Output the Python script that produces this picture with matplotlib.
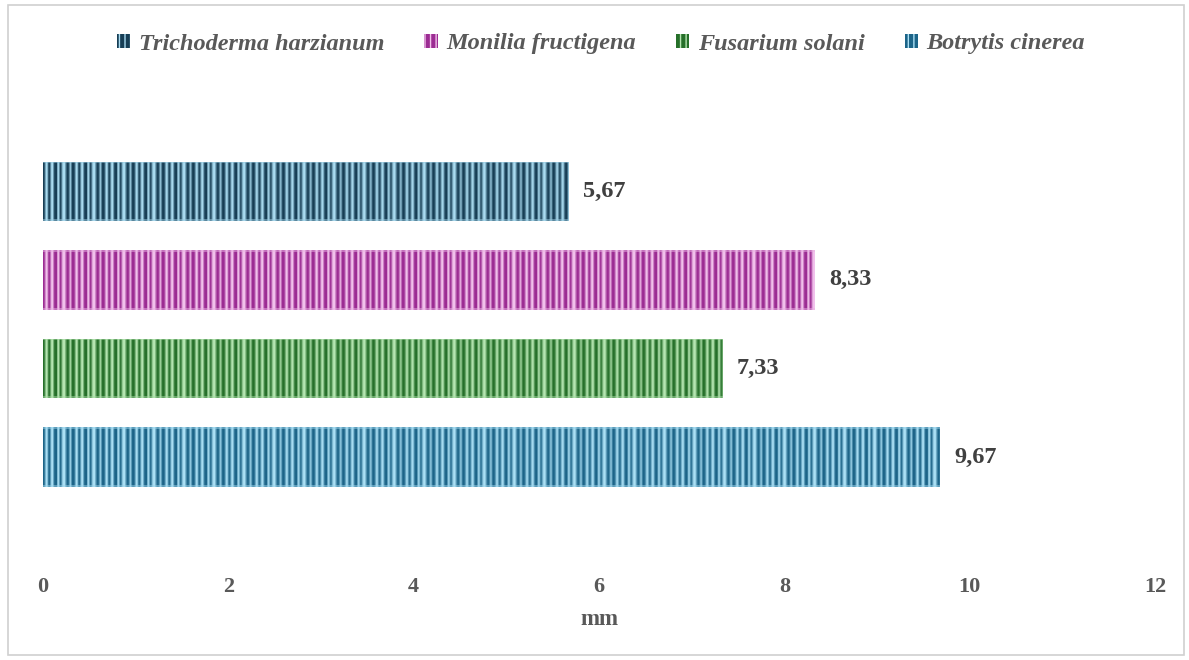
import numpy as np
import matplotlib
matplotlib.use("Agg")
import matplotlib.pyplot as plt
from matplotlib.patches import Rectangle, Patch
from matplotlib.colors import LinearSegmentedColormap

# Inhibition zone (mm) per fungus
species = ["Trichoderma harzianum", "Monilia fructigena", "Fusarium solani", "Botrytis cinerea"]
values = [5.67, 8.33, 7.33, 9.67]
labels = ["5,67", "8,33", "7,33", "9,67"]
xticks = [0, 2, 4, 6, 8, 10, 12]

# dark / light tones of the striped fill for each series
dark_cols = ["#173e55", "#9c2c93", "#26702a", "#1c6488"]
light_cols = ["#aadcf1", "#f2c2ec", "#b6e6b2", "#abe0f5"]

plt.rcParams["font.family"] = ["Liberation Serif", "DejaVu Serif"]
plt.rcParams["hatch.color"] = "#ffffff"
txt = "#595959"

fig = plt.figure(figsize=(11.89, 6.60), dpi=100)
W, H = 1189, 660
ax = fig.add_axes([43 / W, (H - 560) / H, (1155 - 43) / W, (560 - 100) / H])

# outer frame of the chart
fig.patches.append(Rectangle((8 / W, 5 / H), (1184 - 8) / W, (655 - 5) / H,
                             transform=fig.transFigure, fill=False,
                             edgecolor="#d0d0d0", linewidth=1.2))

ypos = np.arange(len(species))[::-1].astype(float)
bar_h = 0.67

# fine vertical stripe profile used as the bar texture (one entry per column)
stripe = np.array([0.0, 0.2, 0.65, 1.0, 0.75, 0.2, 0.05, 0.45, 0.9, 1.0,
                   0.55, 0.1, 0.0, 0.0, 0.7, 0.95, 0.5, 0.05, 0.35, 0.8, 1.0, 1.0,
                   0.6, 0.25, 0.0, 0.1, 0.5, 0.85, 0.4, 0.0])
col_w = 12 / 1112  # data width of one texture column

bars = ax.barh(ypos, values, height=bar_h, color="none", edgecolor="none")
for bar, dc, lc in zip(bars, dark_cols, light_cols):
    x0, y0 = bar.get_x(), bar.get_y()
    w, h = bar.get_width(), bar.get_height()
    n = int(np.ceil(w / col_w)) + 1
    row = np.resize(stripe, n)
    vert = np.ones(60)
    vert[:2] = 0.5
    vert[-2:] = 0.5
    img = np.clip(row[None, :] * vert[:, None] + (1 - vert[:, None]) * 0.9, 0, 1)
    cmap = LinearSegmentedColormap.from_list("s", [dc, lc])
    im = ax.imshow(img, cmap=cmap, vmin=0, vmax=1, aspect="auto",
                   interpolation="bilinear",
                   extent=(x0, x0 + n * col_w, y0, y0 + h), zorder=2)
    im.set_clip_path(bar)
    bar.set_zorder(3)

for y, v, lab in zip(ypos, values, labels):
    ax.text(v + 0.16, y, lab, va="center", ha="left", fontsize=17.5,
            fontweight="bold", color="#404040")

ax.set_xlim(0, 12)
ax.set_ylim(-1.16, 4.03)
ax.set_xticks(xticks)
ax.set_xticklabels([str(t) for t in xticks], fontsize=16, fontweight="bold", color=txt)
ax.tick_params(axis="x", length=0, pad=12)
ax.set_yticks([])
for s in ax.spines.values():
    s.set_visible(False)
ax.set_xlabel("mm", fontsize=16.5, fontweight="bold", color=txt, labelpad=9)

handles = [Patch(facecolor=dc, edgecolor=lc, hatch="|||", linewidth=0)
           for dc, lc in zip(dark_cols, light_cols)]
leg = fig.legend(handles, species, loc="center", bbox_to_anchor=(601 / W, 1 - 44 / H),
                 ncol=4, frameon=False, handlelength=0.55, handleheight=0.55,
                 handletextpad=0.35, columnspacing=1.65,
                 prop={"family": ["Liberation Serif"], "style": "italic",
                       "weight": "bold", "size": 17.5})
for t in leg.get_texts():
    t.set_color(txt)

fig.savefig("out.png", dpi=100)
